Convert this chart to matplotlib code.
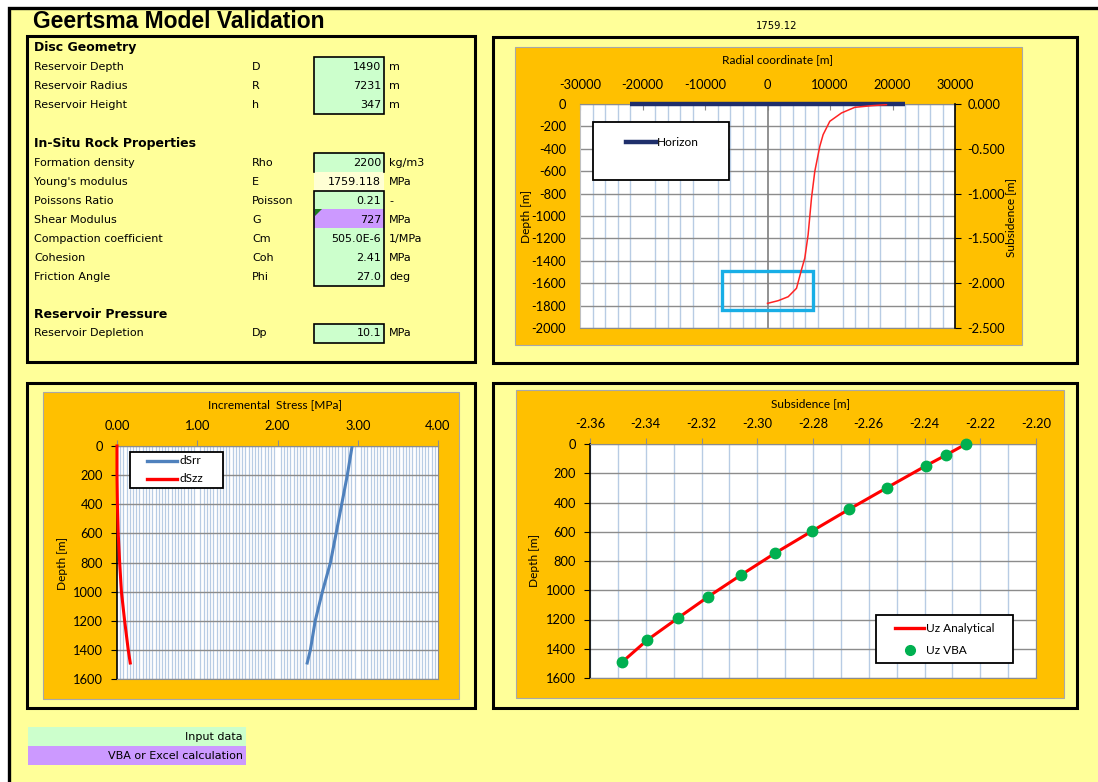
import matplotlib
matplotlib.use("Agg")
import matplotlib.pyplot as plt
from matplotlib.patches import Rectangle, Polygon
from matplotlib.ticker import MultipleLocator
from matplotlib.lines import Line2D

W, H = 1098, 782

# ---------------- parameter table ----------------
section_titles = ["Disc Geometry", "In-Situ Rock Properties", "Reservoir Pressure"]

geometry_names = ["Reservoir Depth", "Reservoir Radius", "Reservoir Height"]
geometry_symbols = ["D", "R", "h"]
geometry_values = [1490, 7231, 347]
geometry_units = ["m", "m", "m"]

rock_names = ["Formation density", "Young's modulus", "Poissons Ratio", "Shear Modulus",
              "Compaction coefficient", "Cohesion", "Friction Angle"]
rock_symbols = ["Rho", "E", "Poisson", "G", "Cm", "Coh", "Phi"]
rock_values = ["2200", "1759.118", "0.21", "727", "505.0E-6", "2.41", "27.0"]
rock_units = ["kg/m3", "MPa", "-", "MPa", "1/MPa", "MPa", "deg"]

pressure_names = ["Reservoir Depletion"]
pressure_symbols = ["Dp"]
pressure_values = ["10.1"]
pressure_units = ["MPa"]

youngs_header = "1759.12"
key_labels = ["Input data", "VBA or Excel calculation"]

# ---------------- chart data ----------------
# subsidence bowl along the radial coordinate
radial_r = [0, 1710, 3310, 4640, 5440, 5970, 6500, 7040, 7570, 8370, 8900, 9970, 11840,
            13970, 16630, 19030]
radial_subsidence = [-2.225, -2.195, -2.151, -2.057, -1.849, -1.719, -1.458, -1.049, -0.751,
                     -0.472, -0.342, -0.193, -0.100, -0.037, -0.019, -0.007]
horizon_r = [-22000, 22000]
horizon_depth = [0, 0]

# incremental stresses along depth
stress_depth = [0, 200, 400, 600, 800, 1000, 1200, 1400, 1490]
dSrr = [2.93, 2.87, 2.80, 2.73, 2.66, 2.56, 2.47, 2.41, 2.37]
dSzz = [0.0, 0.0, 0.005, 0.015, 0.033, 0.055, 0.095, 0.14, 0.165]

# vertical displacement along depth
uz_depth = [0, 74.5, 149, 298, 447, 596, 745, 894, 1043, 1192, 1341, 1490]
uz_analytical = [-2.2251, -2.2322, -2.2395, -2.2534, -2.2671, -2.2804, -2.2935, -2.3057,
                 -2.3175, -2.3286, -2.3395, -2.3484]
uz_vba = [-2.2251, -2.2322, -2.2395, -2.2534, -2.2671, -2.2804, -2.2935, -2.3057,
          -2.3175, -2.3286, -2.3395, -2.3484]

# ---------------- styling ----------------
YELLOW = "#FFFF99"
ORANGE = "#FFC000"
GREEN = "#CCFFCC"
PURPLE = "#CC99FF"
GRID_MAJOR = "#8C8C8C"
GRID_MINOR = "#B8CCE4"
SHEET_FONT = "DejaVu Sans"
CHART_FONT = "Lato"
TICK_FS = 9.3
TITLE_FS = 8.6

fig = plt.figure(figsize=(W / 100, H / 100), dpi=100)
fig.patch.set_facecolor("white")

bg = fig.add_axes([0, 0, 1, 1])
bg.set_xlim(0, W)
bg.set_ylim(H, 0)
bg.axis("off")


def box(ax, x0, y0, x1, y1, **kw):
    ax.add_patch(Rectangle((x0, y0), x1 - x0, y1 - y0, **kw))


def px_axes(x0, y0, x1, y1):
    return fig.add_axes([x0 / W, 1 - y1 / H, (x1 - x0) / W, (y1 - y0) / H])


# sheet and panel frames
box(bg, 9, 8, W + 10, H + 10, fc=YELLOW, ec="black", lw=2.4)
for (x0, y0, x1, y1) in [(27, 36, 475, 362), (493, 37, 1077, 363),
                         (27, 383, 475, 708), (493, 383, 1077, 708)]:
    box(bg, x0, y0, x1, y1, fc="none", ec="black", lw=2.2, zorder=3)

# chart areas
for (x0, y0, x1, y1) in [(515, 47, 1022, 345), (43, 392, 459, 699), (516, 390, 1064, 698)]:
    box(bg, x0, y0, x1, y1, fc=ORANGE, ec="#A8A8A8", lw=0.8)

bg.text(33, 22, "Geertsma Model Validation", family="Liberation Sans", weight="bold",
        fontsize=16.5, ha="left", va="center")
bg.text(777, 26, youngs_header, family=SHEET_FONT, fontsize=7.2, ha="center", va="center")

# ---------------- parameter table ----------------
name_x, sym_x, val_x, unit_x = 34, 252, 381, 389
cell_x0, cell_x1 = 314, 384
row_h = 19.1


def table_rows(y_first, names, syms, vals, units):
    for i, (n, s, v, u) in enumerate(zip(names, syms, vals, units)):
        y = y_first + i * row_h
        bg.text(name_x, y, n, family=SHEET_FONT, fontsize=8, ha="left", va="center")
        bg.text(sym_x, y, s, family=SHEET_FONT, fontsize=8, ha="left", va="center")
        bg.text(val_x, y, str(v), family=SHEET_FONT, fontsize=8, ha="right", va="center", zorder=5)
        bg.text(unit_x, y, u, family=SHEET_FONT, fontsize=8, ha="left", va="center")


for title, y in zip(section_titles, [48, 143, 315]):
    bg.text(name_x, y, title, family=SHEET_FONT, weight="bold", fontsize=9,
            ha="left", va="center")

# input cells
box(bg, cell_x0, 57, cell_x1, 114, fc=GREEN, ec="black", lw=1.2)
box(bg, cell_x0, 153, cell_x1, 172, fc=GREEN, ec="none")
bg.plot([cell_x0, cell_x0, cell_x1, cell_x1], [172, 153, 153, 172], color="black", lw=1.2)
box(bg, cell_x0, 172, cell_x1, 191, fc="#FFFFD4", ec="none")
box(bg, cell_x0, 191, cell_x1, 286, fc=GREEN, ec="none")
box(bg, cell_x0, 209, cell_x1, 228, fc=PURPLE, ec="none")
box(bg, cell_x0, 191, cell_x1, 286, fc="none", ec="black", lw=1.2)
bg.add_patch(Polygon([[315, 209], [322, 209], [315, 216]], closed=True, fc="#1E7B1E", ec="none"))
box(bg, cell_x0, 324, cell_x1, 343, fc=GREEN, ec="black", lw=1.2)

table_rows(66.5, geometry_names, geometry_symbols, geometry_values, geometry_units)
table_rows(162.5, rock_names, rock_symbols, rock_values, rock_units)
table_rows(333.5, pressure_names, pressure_symbols, pressure_values, pressure_units)

# colour key
box(bg, 28, 727, 246, 746, fc=GREEN, ec="none")
box(bg, 28, 746, 246, 765, fc=PURPLE, ec="none")
bg.text(243, 737, key_labels[0], family=SHEET_FONT, fontsize=8, ha="right", va="center")
bg.text(243, 756, key_labels[1], family=SHEET_FONT, fontsize=8, ha="right", va="center")


def style_ticks(ax):
    for lab in ax.get_xticklabels() + ax.get_yticklabels():
        lab.set_family(CHART_FONT)
        lab.set_fontsize(TICK_FS)


# ---------------- radial coordinate chart ----------------
ax1 = px_axes(580, 104, 955, 328)
ax1.set_facecolor("white")
ax1.set_xlim(-30000, 30000)
ax1.set_ylim(-2000, 0)
ax1.xaxis.tick_top()
xt = list(range(-30000, 30001, 10000))
ax1.set_xticks(xt)
ax1.set_xticklabels([str(v) for v in xt])
yt = list(range(-2000, 1, 200))
ax1.set_yticks(yt)
ax1.set_yticklabels([str(v) for v in yt])
ax1.xaxis.set_minor_locator(MultipleLocator(2000))
ax1.grid(which="minor", axis="x", color=GRID_MINOR, lw=1.0)
ax1.grid(which="major", axis="y", color=GRID_MAJOR, lw=1.0)
ax1.set_axisbelow(True)
ax1.tick_params(axis="x", which="major", direction="in", length=4, color=GRID_MAJOR, pad=9.5)
ax1.tick_params(axis="x", which="minor", length=0)
ax1.tick_params(axis="y", length=0, pad=10)
ax1.axvline(0, color="#7F7F7F", lw=1.2, zorder=1.5)
for s in ["top", "bottom"]:
    ax1.spines[s].set_color(GRID_MAJOR)
ax1.spines["left"].set_color("#BFBFBF")
ax1.spines["right"].set_visible(False)
style_ticks(ax1)

reservoir_depth = geometry_values[0]
reservoir_radius = geometry_values[1]
reservoir_height = geometry_values[2]
ax1.add_patch(Rectangle((-reservoir_radius, -(reservoir_depth + reservoir_height)),
                        2 * reservoir_radius, reservoir_height,
                        fill=False, ec="#18AEE6", lw=2.4, zorder=4))
ax1.plot(horizon_r, horizon_depth, color="#1F2F6B", lw=3.2, clip_on=False, zorder=6,
         solid_capstyle="butt")

ax2 = ax1.twinx()
ax2.set_ylim(-2.5, 0)
st = [-2.5, -2.0, -1.5, -1.0, -0.5, 0.0]
ax2.set_yticks(st)
ax2.set_yticklabels([f"{v:.3f}" for v in st])
ax2.tick_params(axis="y", direction="out", length=4, color="black", pad=5)
for s in ["left", "top", "bottom"]:
    ax2.spines[s].set_visible(False)
ax2.spines["right"].set_color("black")
ax2.spines["right"].set_linewidth(1.2)
ax2.plot(radial_r, radial_subsidence, color="#FF2424", lw=1.1, zorder=5)
style_ticks(ax2)

# ---------------- incremental stress chart ----------------
ax3 = px_axes(117, 446, 438, 679)
ax3.set_facecolor("white")
ax3.set_xlim(0, 4)
ax3.set_ylim(1600, 0)
ax3.xaxis.tick_top()
sx = [0, 1, 2, 3, 4]
ax3.set_xticks(sx)
ax3.set_xticklabels([f"{v:.2f}" for v in sx])
dy = list(range(0, 1601, 200))
ax3.set_yticks(dy)
ax3.set_yticklabels([str(v) for v in dy])
ax3.xaxis.set_minor_locator(MultipleLocator(0.04))
ax3.grid(which="minor", axis="x", color=GRID_MINOR, lw=0.9)
ax3.grid(which="major", axis="y", color=GRID_MAJOR, lw=1.0)
ax3.set_axisbelow(True)
ax3.tick_params(axis="x", which="major", direction="out", length=4, color=GRID_MAJOR, pad=6)
ax3.tick_params(axis="x", which="minor", length=0)
ax3.tick_params(axis="y", direction="out", length=4, color="black", pad=6)
for s in ["top", "bottom", "right"]:
    ax3.spines[s].set_color(GRID_MAJOR)
ax3.spines["left"].set_color("black")
ax3.spines["left"].set_linewidth(1.2)
ax3.plot(dSrr, stress_depth, color="#4F81BD", lw=2.2, zorder=4)
ax3.plot(dSzz, stress_depth, color="#FF0000", lw=2.2, zorder=4, clip_on=False)
style_ticks(ax3)

# ---------------- subsidence vs depth chart ----------------
ax4 = px_axes(590, 444, 1036, 678)
ax4.set_facecolor("white")
ax4.set_xlim(-2.36, -2.20)
ax4.set_ylim(1600, 0)
ax4.xaxis.tick_top()
ux = [-2.36, -2.34, -2.32, -2.30, -2.28, -2.26, -2.24, -2.22, -2.20]
ax4.set_xticks(ux)
ax4.set_xticklabels([f"{v:.2f}" for v in ux])
ax4.set_yticks(dy)
ax4.set_yticklabels([str(v) for v in dy])
ax4.xaxis.set_minor_locator(MultipleLocator(0.01))
ax4.grid(which="both", axis="x", color=GRID_MINOR, lw=1.0)
ax4.grid(which="major", axis="y", color=GRID_MAJOR, lw=1.0)
ax4.set_axisbelow(True)
ax4.tick_params(axis="x", which="major", direction="out", length=4, color=GRID_MAJOR, pad=6)
ax4.tick_params(axis="x", which="minor", length=0)
ax4.tick_params(axis="y", direction="out", length=4, color="black", pad=6)
for s in ["top", "bottom", "right"]:
    ax4.spines[s].set_color(GRID_MAJOR)
ax4.spines["left"].set_color("black")
ax4.spines["left"].set_linewidth(1.2)
ax4.plot(uz_analytical, uz_depth, color="#FF0000", lw=2.2, zorder=4)
ax4.plot(uz_vba, uz_depth, ls="none", marker="o", ms=7.5, color="#00B050", zorder=5,
         clip_on=False)
style_ticks(ax4)

# ---------------- titles and legends (pixel overlay) ----------------
fg = fig.add_axes([0, 0, 1, 1], zorder=10)
fg.set_xlim(0, W)
fg.set_ylim(H, 0)
fg.axis("off")
fg.patch.set_visible(False)

ck = dict(family=CHART_FONT, fontsize=TITLE_FS, ha="center", va="center")
fg.text(778, 60, "Radial coordinate [m]", **ck)
fg.text(526, 216, "Depth [m]", rotation=90, **ck)
fg.text(1011, 217, "Subsidence [m]", rotation=90, **ck)
fg.text(275, 405, "Incremental  Stress [MPa]", **ck)
fg.text(62, 563, "Depth [m]", rotation=90, **ck)
fg.text(811, 404, "Subsidence [m]", **ck)
fg.text(534, 560, "Depth [m]", rotation=90, **ck)

lk = dict(family=CHART_FONT, fontsize=TITLE_FS, ha="left", va="center")

box(fg, 593, 122, 729, 180, fc="white", ec="black", lw=1.3)
fg.add_line(Line2D([626, 656], [142, 142], color="#1F2F6B", lw=3.2))
fg.text(657, 142, "Horizon", **lk)

box(fg, 130, 452, 223, 488, fc="white", ec="black", lw=1.3)
fg.add_line(Line2D([147, 177], [461, 461], color="#4F81BD", lw=2.4))
fg.text(179, 461, "dSrr", **lk)
fg.add_line(Line2D([147, 177], [479, 479], color="#FF0000", lw=2.4))
fg.text(179, 479, "dSzz", **lk)

box(fg, 876, 615, 1013, 663, fc="white", ec="black", lw=1.3)
fg.add_line(Line2D([895, 924], [628, 628], color="#FF0000", lw=2.4))
fg.text(926, 628, "Uz Analytical", **lk)
fg.add_line(Line2D([910], [650], ls="none", marker="o", ms=7, color="#00B050"))
fg.text(926, 650, "Uz VBA", **lk)

fig.savefig("out.png", dpi=100, facecolor=fig.get_facecolor())
